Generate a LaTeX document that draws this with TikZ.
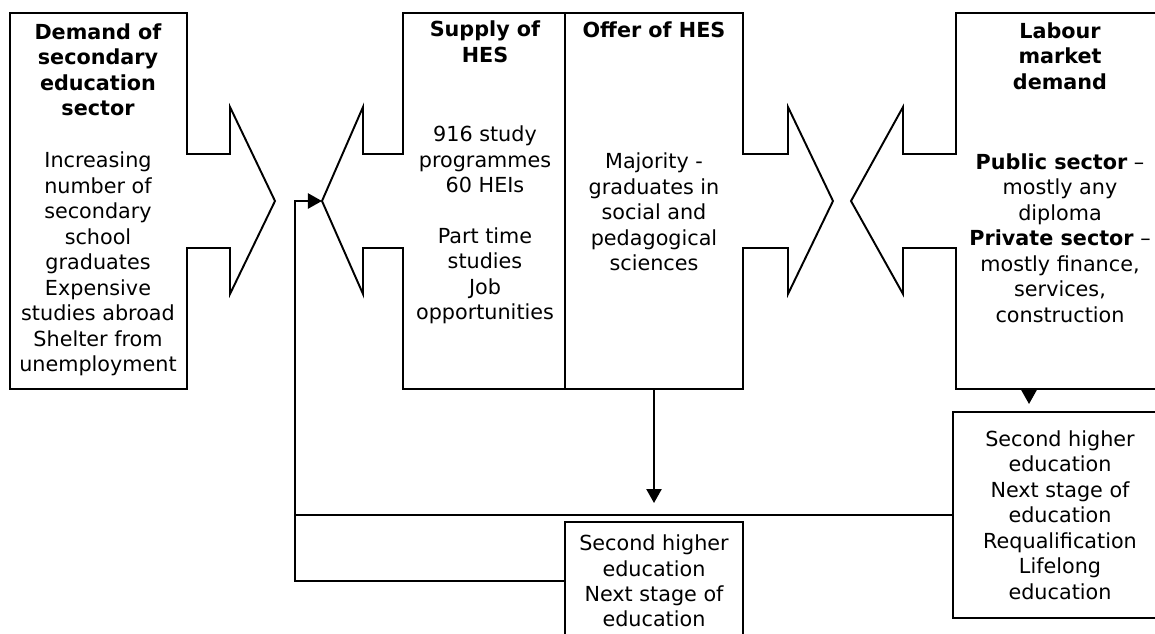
\documentclass[tikz,border=0pt]{standalone}
\usepackage{fontspec}
\setmainfont{DejaVu Sans}
\usetikzlibrary{arrows.meta}
\begin{document}
\begin{tikzpicture}[x=.02cm,y=-.02cm,line join=miter,
  box/.style={draw,line width=1.1pt},
  txt/.style={align=center,inner sep=0pt,font=\fontsize{11.8}{14.5}\selectfont},
  ttl/.style={txt,font=\fontsize{11.8}{14.5}\selectfont\bfseries},
  flow/.style={line width=1.5pt,-{Triangle[length=8pt,width=8.5pt]}}]
  \useasboundingbox (0,0) rectangle (1155,633);
  \clip (0,0) rectangle (1155,633);
  \path (322,201) coordinate (sTip)
  (295,201) coordinate (turn)
  (654,389) coordinate (offS)
  (1029,389) coordinate (labS);
  \draw [box] (10,13) -- (187,13) -- (187,154) -- (230,154) -- (230,107) -- (275,201)
  -- (230,294) -- (230,248) -- (187,248) -- (187,389) -- (10,389) -- cycle;
  \draw [box] (403,13) -- (743,13) -- (743,154) -- (788,154) -- (788,107) -- (833,201)
  -- (788,294) -- (788,248) -- (743,248) -- (743,389) -- (403,389) -- (403,248)
  -- (363,248) -- (363,294) -- (sTip) -- (363,107) -- (363,154) -- (403,154) -- cycle;
  \draw [box] (565,13) -- (565,389);
  \draw [box] (1167,13) -- (956,13) -- (956,154) -- (903,154) -- (903,107) -- (851,201)
  -- (903,294) -- (903,248) -- (956,248) -- (956,389) -- (1167,389) -- cycle;
  \node[ttl] (demandT) at (98,70) {Demand of\\secondary\\education\\sector};
  \node[txt] (demand) at (98,264) {Increasing\\number of\\secondary\\school\\graduates\\Expensive\\studies abroad\\Shelter from\\unemployment};
  \node[ttl] (supplyT) at (485,42) {Supply of\\HES};
  \node[txt] (supply) at (485,225) {916 study\\programmes\\60 HEIs\\[14.5pt]Part time\\studies\\Job\\opportunities};
  \node[ttl] (offerT) at (654,30) {Offer of HES};
  \node[txt] (offer) at (654,212) {Majority -\\graduates in\\social and\\pedagogical\\sciences};
  \node[ttl] (labourT) at (1060,56) {Labour\\market\\demand};
  \node[txt] (labour) at (1060,238) {\textbf{Public sector} --\\mostly any\\diploma\\\textbf{Private sector} --\\mostly finance,\\services,\\construction};
  \node[txt,box,minimum width=4.28cm,minimum height=4.12cm] (nextR) at (1060,515) {Second higher\\education\\Next stage of\\education\\Requalification\\Lifelong\\education};
  \node[txt,box,minimum width=3.56cm,minimum height=2.36cm] (nextM) at (654,581) {Second higher\\education\\Next stage of\\education};
  \draw [flow,shorten >=.36cm] (offS) -- (nextM.north);
  \draw [flow,shorten >=.14cm] (labS) -- (labS |- nextR.north);
  \draw [flow] (nextM.west) -| (turn) -- (sTip);
  \draw [line width=1.5pt] (nextR.west) -- (nextR.west -| turn);
\end{tikzpicture}
\end{document}
